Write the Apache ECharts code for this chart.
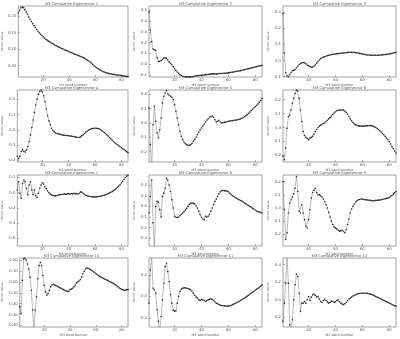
<!DOCTYPE html>
<html>
<head>
<meta charset="utf-8">
<script src="https://cdn.jsdelivr.net/npm/echarts@6/dist/echarts.min.js"></script>
<style>
html,body{margin:0;padding:0;background:#fff;}
#chart{width:400px;height:339px;}
</style>
</head>
<body>
<div id="chart"></div>
<script>
// Cumulative eigenvectors 1-12, one value per M3 word number (1..85)
const ev1 = [0.209,0.217,0.225,0.227,0.225,0.219,0.212,0.205,0.197,0.190,
 0.183,0.177,0.171,0.165,0.159,0.154,0.149,0.145,0.141,0.137,
 0.133,0.130,0.127,0.124,0.122,0.119,0.117,0.115,0.112,0.110,
 0.108,0.106,0.104,0.102,0.101,0.099,0.097,0.095,0.094,0.092,
 0.090,0.089,0.087,0.085,0.084,0.082,0.081,0.079,0.077,0.076,
 0.074,0.072,0.069,0.066,0.064,0.061,0.058,0.054,0.050,0.047,
 0.044,0.041,0.039,0.036,0.034,0.032,0.031,0.029,0.028,0.027,
 0.026,0.025,0.024,0.024,0.023,0.022,0.022,0.021,0.021,0.020,
 0.020,0.019,0.018,0.018,0.017];
const ev2 = [0.485,0.317,0.210,0.140,0.134,0.128,0.058,0.027,0.024,0.034,
 0.043,0.055,0.058,0.055,0.037,0.018,0.006,-0.006,-0.024,-0.043,
 -0.058,-0.073,-0.085,-0.098,-0.107,-0.113,-0.116,-0.119,-0.119,-0.119,
 -0.119,-0.119,-0.119,-0.116,-0.113,-0.110,-0.107,-0.107,-0.104,-0.104,
 -0.101,-0.101,-0.098,-0.098,-0.095,-0.095,-0.091,-0.091,-0.091,-0.091,
 -0.091,-0.091,-0.088,-0.088,-0.088,-0.085,-0.085,-0.085,-0.082,-0.082,
 -0.079,-0.076,-0.076,-0.073,-0.070,-0.067,-0.064,-0.064,-0.061,-0.058,
 -0.055,-0.052,-0.049,-0.046,-0.043,-0.040,-0.037,-0.034,-0.030,-0.027,
 -0.024,-0.021,-0.018,-0.015,-0.012];
const ev3 = [0.292,0.047,-0.076,-0.096,-0.100,-0.088,-0.076,-0.063,-0.061,-0.055,
 -0.045,-0.035,-0.024,-0.018,-0.014,-0.012,-0.014,-0.020,-0.027,-0.033,
 -0.037,-0.041,-0.041,-0.035,-0.027,-0.016,-0.006,0.004,0.012,0.018,
 0.022,0.024,0.027,0.031,0.033,0.035,0.037,0.039,0.039,0.041,
 0.043,0.043,0.045,0.045,0.047,0.047,0.049,0.049,0.051,0.051,
 0.051,0.051,0.051,0.051,0.049,0.049,0.047,0.045,0.043,0.041,
 0.039,0.037,0.037,0.035,0.035,0.033,0.033,0.033,0.033,0.033,
 0.033,0.033,0.035,0.035,0.035,0.037,0.037,0.039,0.041,0.041,
 0.043,0.045,0.047,0.049,0.051];
const ev4 = [-0.174,-0.189,-0.174,-0.141,-0.130,-0.141,-0.146,-0.133,-0.109,-0.076,
 -0.033,0.015,0.065,0.115,0.163,0.202,0.233,0.254,0.261,0.250,
 0.224,0.185,0.137,0.093,0.059,0.033,0.011,-0.004,-0.013,-0.020,
 -0.024,-0.026,-0.028,-0.030,-0.033,-0.035,-0.035,-0.037,-0.037,-0.039,
 -0.041,-0.041,-0.043,-0.043,-0.046,-0.048,-0.050,-0.050,-0.046,-0.039,
 -0.033,-0.024,-0.015,-0.009,-0.002,0.002,0.007,0.009,0.011,0.011,
 0.011,0.009,0.007,0.002,-0.004,-0.011,-0.017,-0.024,-0.033,-0.041,
 -0.050,-0.059,-0.067,-0.076,-0.085,-0.091,-0.098,-0.104,-0.111,-0.117,
 -0.124,-0.130,-0.137,-0.143,-0.150];
const ev5 = [0.105,-0.151,-0.337,-0.012,0.116,0.012,-0.070,-0.105,-0.047,0.035,
 0.140,0.186,0.209,0.226,0.202,0.193,0.186,0.179,0.163,0.128,
 0.081,0.035,-0.012,-0.058,-0.093,-0.116,-0.133,-0.144,-0.151,-0.156,
 -0.156,-0.151,-0.142,-0.128,-0.114,-0.098,-0.081,-0.065,-0.049,-0.035,
 -0.021,-0.007,0.007,0.021,0.030,0.040,0.044,0.049,0.040,0.023,
 0.007,0.012,0.019,0.007,0.000,0.002,0.005,0.007,0.009,0.012,
 0.014,0.016,0.016,0.019,0.019,0.021,0.023,0.026,0.028,0.033,
 0.037,0.044,0.051,0.058,0.067,0.077,0.086,0.095,0.105,0.114,
 0.123,0.133,0.144,0.156,0.170];
const ev6 = [-0.207,-0.231,-0.148,-0.005,0.079,0.090,0.126,0.174,0.210,0.245,
 0.269,0.262,0.210,0.126,0.043,-0.029,-0.057,-0.071,-0.081,-0.088,
 -0.076,-0.071,-0.064,-0.048,-0.029,-0.014,0.000,0.010,0.017,0.024,
 0.029,0.033,0.043,0.052,0.062,0.071,0.083,0.095,0.105,0.114,
 0.121,0.124,0.124,0.126,0.126,0.124,0.119,0.110,0.095,0.079,
 0.062,0.048,0.036,0.026,0.019,0.014,0.012,0.010,0.010,0.010,
 0.010,0.010,0.012,0.012,0.014,0.014,0.012,0.010,0.005,0.000,
 -0.007,-0.014,-0.024,-0.033,-0.043,-0.052,-0.064,-0.076,-0.088,-0.102,
 -0.119,-0.136,-0.152,-0.169,-0.183];
const ev7 = [0.035,0.143,-0.009,-0.074,0.122,0.165,0.143,0.057,-0.030,0.100,
 0.143,0.035,-0.030,0.035,-0.043,-0.061,-0.009,0.057,0.100,0.130,
 0.113,0.078,0.052,0.022,0.000,-0.017,-0.030,-0.039,-0.043,-0.043,
 -0.039,-0.035,-0.030,-0.026,-0.026,-0.022,-0.017,-0.022,-0.017,-0.013,
 -0.022,-0.013,-0.017,-0.009,-0.017,-0.013,-0.022,-0.009,0.009,0.004,
 -0.009,-0.026,-0.039,-0.043,-0.048,-0.052,-0.052,-0.057,-0.057,-0.057,
 -0.057,-0.052,-0.052,-0.048,-0.043,-0.039,-0.035,-0.030,-0.022,-0.013,
 -0.004,0.004,0.013,0.026,0.039,0.052,0.070,0.087,0.104,0.126,
 0.148,0.174,0.200,0.217,0.230];
const ev8 = [-0.063,0.094,0.250,-0.156,-0.406,0.000,0.047,0.038,-0.031,-0.100,
 0.094,0.125,0.172,0.266,0.250,0.203,0.141,0.063,-0.016,-0.094,
 -0.103,-0.106,-0.100,-0.088,-0.075,-0.063,-0.050,-0.034,-0.019,0.000,
 0.019,0.031,0.031,0.028,0.022,0.006,-0.016,-0.047,-0.078,-0.103,
 -0.119,-0.125,-0.094,-0.100,-0.094,-0.078,-0.047,-0.016,0.016,0.047,
 0.069,0.094,0.119,0.138,0.150,0.150,0.147,0.147,0.144,0.138,
 0.125,0.113,0.100,0.094,0.084,0.078,0.069,0.063,0.056,0.050,
 0.041,0.031,0.025,0.016,0.009,0.000,-0.009,-0.019,-0.025,-0.034,
 -0.044,-0.050,-0.053,-0.056,-0.063];
const ev9 = [0.200,-0.013,-0.238,-0.188,-0.038,0.038,0.063,0.083,0.108,0.150,
 0.238,0.125,-0.025,-0.038,0.025,-0.038,-0.088,-0.138,-0.150,-0.088,
 -0.013,0.075,0.118,0.133,0.150,0.118,0.100,0.100,0.093,0.083,
 0.068,0.048,0.025,0.000,-0.033,-0.068,-0.100,-0.125,-0.143,-0.150,
 -0.158,-0.168,-0.175,-0.173,-0.168,-0.178,-0.188,-0.163,-0.125,-0.083,
 -0.038,-0.008,0.013,0.030,0.045,0.055,0.063,0.065,0.068,0.068,
 0.065,0.063,0.063,0.060,0.058,0.058,0.055,0.055,0.055,0.058,
 0.058,0.060,0.060,0.063,0.065,0.068,0.070,0.073,0.075,0.080,
 0.088,0.095,0.105,0.115,0.125];
const ev10 = [-0.227,-0.288,0.015,0.212,0.221,0.203,0.167,0.121,0.045,-0.076,
 -0.258,-0.470,-0.258,-0.136,0.030,0.152,0.182,0.152,0.061,-0.030,
 -0.091,-0.121,-0.106,-0.076,-0.045,-0.027,-0.021,-0.027,-0.033,-0.039,
 -0.045,-0.052,-0.058,-0.064,-0.070,-0.076,-0.082,-0.088,-0.082,-0.070,
 -0.064,-0.058,-0.045,-0.027,-0.009,0.000,0.009,0.021,0.045,0.076,
 0.100,0.121,0.130,0.127,0.121,0.115,0.106,0.097,0.088,0.079,
 0.070,0.061,0.052,0.045,0.039,0.033,0.027,0.021,0.015,0.009,
 0.003,-0.003,-0.009,-0.015,-0.024,-0.033,-0.042,-0.052,-0.061,-0.067,
 -0.070,-0.076,-0.076,-0.070,-0.070];
const ev11 = [-0.062,0.246,0.369,0.077,0.062,0.031,-0.123,-0.231,-0.323,-0.185,
 -0.031,0.123,0.277,0.308,0.231,0.138,0.015,-0.062,-0.129,-0.138,
 -0.132,-0.062,0.000,0.046,0.068,0.077,0.080,0.080,0.077,0.074,
 0.068,0.062,0.049,0.031,0.012,-0.006,-0.015,-0.031,-0.037,-0.025,
 -0.031,-0.037,-0.046,-0.040,-0.031,-0.025,-0.022,-0.025,-0.037,-0.049,
 -0.062,-0.068,-0.074,-0.080,-0.083,-0.086,-0.086,-0.089,-0.089,-0.089,
 -0.086,-0.083,-0.077,-0.071,-0.065,-0.058,-0.052,-0.046,-0.037,-0.031,
 -0.022,-0.015,-0.006,0.003,0.012,0.022,0.031,0.040,0.049,0.058,
 0.068,0.077,0.086,0.095,0.105];
const ev12 = [-0.245,-0.038,0.189,0.491,0.189,-0.283,-0.340,-0.226,0.000,0.170,
 0.294,0.264,0.075,-0.132,-0.038,-0.038,-0.019,-0.038,0.000,0.038,
 -0.008,0.030,0.057,0.064,0.049,0.030,0.038,0.008,-0.019,-0.030,
 -0.008,0.008,-0.008,-0.026,-0.038,-0.030,-0.015,-0.019,-0.030,-0.023,
 -0.008,0.000,-0.019,-0.038,-0.049,-0.057,-0.045,-0.030,-0.011,0.008,
 0.019,0.030,0.042,0.049,0.057,0.064,0.068,0.072,0.075,0.075,
 0.075,0.075,0.075,0.072,0.068,0.064,0.060,0.053,0.045,0.038,
 0.030,0.023,0.015,0.008,0.000,-0.008,-0.015,-0.023,-0.030,-0.038,
 -0.045,-0.053,-0.060,-0.068,-0.072];

// Y tick labels and axis extents for each panel
const yTicks = [
  [0.05,0.10,0.15,0.20],
  [-0.1,0.0,0.1,0.2,0.3,0.4,0.5],
  [-0.1,0.0,0.1,0.2,0.3],
  [-0.2,-0.1,0.0,0.1,0.2],
  [-0.2,-0.1,0.0,0.1,0.2],
  [-0.2,-0.1,0.0,0.1,0.2],
  [-0.6,-0.4,-0.2,0.0,0.2],
  [-0.3,-0.2,-0.1,0.0,0.1,0.2,0.3],
  [-0.2,-0.1,0.0,0.1,0.2],
  [-0.4,-0.3,-0.2,-0.1,0.0,0.1,0.2],
  [-0.2,0.0,0.2],
  [-0.2,0.0,0.2,0.4]
];
const yMin = [0.016,-0.12,-0.102,-0.211,-0.272,-0.248,-0.704,-0.375,-0.2875,-0.415,-0.283,-0.309];
const yMax = [0.230,0.54,0.339,0.262,0.230,0.270,0.232,0.297,0.25,0.222,0.357,0.475];
const yDigits = [2,1,1,1,1,1,1,1,1,2,1,1];
const xTicks = [20,40,60,80];
const xFirst = 1, xLast = 85;

const series = [ev1,ev2,ev3,ev4,ev5,ev6,ev7,ev8,ev9,ev10,ev11,ev12];
const titleText = n => 'M3 Cumulative Eigenvector ' + n;
const xName = 'M3 Word Number';
const yName = 'Vector value';

// panel layout (pixels)
const colLeft = [15,149,283];
const panelW = 113;
const rowTop = [6,90,175,258];
const rowH = [71,72,71,69];

const font = 'DejaVu Sans';
const grids = [], xAxes = [], yAxes = [], lines = [], graphics = [];

series.forEach((vals, i) => {
  const r = Math.floor(i / 3), c = i % 3;
  const left = colLeft[c], top = rowTop[r], h = rowH[r];
  grids.push({left: left, top: top, width: panelW, height: h,
    show: true, borderColor: '#666', borderWidth: 0.6, backgroundColor: '#fff'});
  xAxes.push({type: 'value', gridIndex: i, min: xFirst, max: xLast,
    axisLine: {show: false, onZero: false}, splitLine: {show: false},
    axisTick: {show: true, inside: true, length: 2, customValues: xTicks, lineStyle: {color: '#666', width: 0.5}},
    axisLabel: {customValues: xTicks, fontSize: 3.8, color: '#555', margin: 1.3, fontFamily: font},
    name: xName, nameLocation: 'middle', nameGap: 4.4,
    nameTextStyle: {fontSize: 3.2, color: '#555', fontFamily: font}});
  const d = yDigits[i];
  yAxes.push({type: 'value', gridIndex: i, min: yMin[i], max: yMax[i],
    axisLine: {show: false, onZero: false}, splitLine: {show: false},
    axisTick: {show: true, inside: true, length: 2, customValues: yTicks[i], lineStyle: {color: '#666', width: 0.5}},
    axisLabel: {customValues: yTicks[i], fontSize: 3.8, color: '#555', margin: 2, fontFamily: font,
      formatter: v => v.toFixed(d)},
    name: yName, nameLocation: 'middle', nameGap: d === 2 ? 10 : 9, nameRotate: 90,
    nameTextStyle: {fontSize: 3.2, color: '#666', fontFamily: font}});
  lines.push({type: 'line', xAxisIndex: i, yAxisIndex: i,
    data: vals.map((v, k) => [xFirst + k, v]),
    symbol: 'circle', symbolSize: 1.6, showSymbol: true, clip: true,
    lineStyle: {color: '#8c8c8c', width: 0.6},
    itemStyle: {color: '#2a2a2a'}, silent: true});
  graphics.push({type: 'text', x: left + panelW / 2, y: top - 2.4,
    style: {text: titleText(i + 1), fontSize: 3.6, fill: '#555', fontFamily: font,
      textAlign: 'center', textVerticalAlign: 'middle'}});
});

const chart = echarts.init(document.getElementById('chart'), null, {renderer: 'canvas'});
chart.setOption({
  animation: false,
  backgroundColor: '#fff',
  grid: grids, xAxis: xAxes, yAxis: yAxes, series: lines, graphic: graphics
});
</script>
</body>
</html>
